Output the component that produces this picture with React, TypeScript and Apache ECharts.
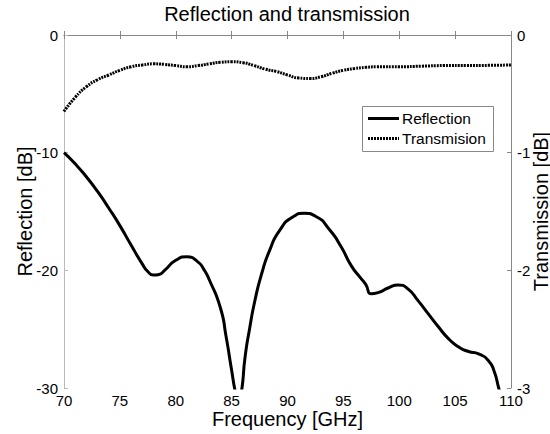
import React, { useEffect, useRef } from "react";
import * as echarts from "echarts";

const titleText = "Reflection and transmission";
const xName = "Frequency [GHz]";
const leftName = "Reflection [dB]";
const rightName = "Transmission [dB]";
const seriesNames = ["Reflection", "Transmision"];

const reflFreq = [70, 71, 72, 73, 74, 75, 76, 77, 77.5, 78, 78.5, 79, 80, 81, 82, 82.5, 83, 84, 84.5, 85, 85.3, 85.6, 85.9, 86.2, 86.6, 87.1, 87.7, 88.4, 89.3, 90.5, 91.5, 92.5, 93.8, 94.8, 95.7, 96.5, 97, 97.5, 98.1, 99, 99.9, 100.8, 101.7, 102.6, 103.5, 104.4, 105.3, 106.2, 107.1, 108, 108.5, 108.9, 109.5, 110];
const reflDb = [-10, -10.95, -12.05, -13.3, -14.7, -16.2, -17.85, -19.45, -20.1, -20.4, -20.35, -20.0, -19.15, -18.85, -19.3, -19.9, -20.8, -23.2, -25.6, -28.5, -30.2, -31.5, -30.2, -27.4, -25.0, -22.5, -20.25, -18.3, -16.6, -15.45, -15.15, -15.4, -16.6, -18.0, -19.6, -20.6, -21.2, -22.0, -21.9, -21.5, -21.25, -21.6, -22.6, -23.7, -24.8, -25.8, -26.5, -26.9, -27.1, -27.7, -28.6, -30, -32, -34];

const transFreq = [70, 71, 72, 73, 74, 75, 76, 77, 78, 79, 80, 81, 82, 83, 84, 85, 86, 87, 88, 89, 90, 91, 92, 93, 94, 95, 96, 97, 98, 100, 102, 104, 106, 108, 110];
const transDb = [-0.65, -0.53, -0.44, -0.38, -0.34, -0.3, -0.27, -0.255, -0.245, -0.25, -0.26, -0.27, -0.26, -0.245, -0.232, -0.227, -0.235, -0.26, -0.29, -0.31, -0.34, -0.365, -0.37, -0.355, -0.325, -0.3, -0.285, -0.275, -0.27, -0.27, -0.265, -0.26, -0.26, -0.258, -0.255];

const xTicks = { min: 70, max: 110, interval: 5 };
const leftTicks = { min: -30, max: 0, interval: 10 };
const rightTicks = { min: -3, max: 0, interval: 1 };

const FONT = "'Liberation Sans', Arial, sans-serif";
const DOTS = [2, 1];

export default function App() {
  const ref = useRef<HTMLDivElement>(null);
  useEffect(() => {
    if (!ref.current) return;
    const chart = echarts.init(ref.current, undefined, { renderer: "svg" });
    const refl = reflFreq.map((f, i) => [f, reflDb[i]]);
    const trans = transFreq.map((f, i) => [f, transDb[i]]);
    const tickStyle = { show: true, inside: true, length: 4, lineStyle: { color: "#888" } };
    const lg = { x: 362, y: 106, w: 131, h: 45 };
    chart.setOption({
      animation: false,
      backgroundColor: "#fff",
      textStyle: { fontFamily: FONT },
      title: {
        text: titleText,
        left: 287,
        top: 4,
        textAlign: "center",
        padding: 0,
        textStyle: { fontSize: 20, fontWeight: "normal", color: "#000", fontFamily: FONT },
      },
      graphic: [
        {
          type: "group",
          z: 100,
          children: [
            {
              type: "rect",
              shape: { x: lg.x + 0.5, y: lg.y + 0.5, width: lg.w, height: lg.h },
              style: { fill: "#fff", stroke: "#888", lineWidth: 1 },
            },
            {
              type: "line",
              shape: { x1: lg.x + 6, y1: lg.y + 12.5, x2: lg.x + 37, y2: lg.y + 12.5 },
              style: { stroke: "#000", lineWidth: 3 },
            },
            {
              type: "line",
              shape: { x1: lg.x + 6, y1: lg.y + 32.5, x2: lg.x + 37, y2: lg.y + 32.5 },
              style: { stroke: "#000", lineWidth: 3, lineDash: DOTS },
            },
            {
              type: "text",
              x: lg.x + 40,
              y: lg.y + 12.5,
              style: { text: seriesNames[0], fontSize: 15.5, fontFamily: FONT, fill: "#000", verticalAlign: "middle", align: "left" },
            },
            {
              type: "text",
              x: lg.x + 40,
              y: lg.y + 32.5,
              style: { text: seriesNames[1], fontSize: 15.5, fontFamily: FONT, fill: "#000", verticalAlign: "middle", align: "left" },
            },
          ],
        },
      ],
      grid: { left: 64, right: 39, top: 35, bottom: 46, containLabel: false, outerBoundsMode: "none" },
      xAxis: [
        {
          type: "value",
          position: "bottom",
          ...xTicks,
          name: xName,
          nameLocation: "middle",
          nameGap: 21,
          nameMoveOverlap: false,
          nameTextStyle: { fontSize: 20, color: "#000", fontFamily: FONT },
          axisLine: { show: true, lineStyle: { color: "#888" } },
          axisTick: tickStyle,
          axisLabel: { fontSize: 15, color: "#000", margin: 5, fontFamily: FONT },
          splitLine: { show: false },
        },
        {
          type: "value",
          position: "top",
          ...xTicks,
          axisLine: { show: true, lineStyle: { color: "#888" } },
          axisTick: tickStyle,
          axisLabel: { show: false },
          splitLine: { show: false },
        },
      ],
      yAxis: [
        {
          type: "value",
          position: "left",
          ...leftTicks,
          name: leftName,
          nameLocation: "middle",
          nameGap: 29.5,
          nameMoveOverlap: false,
          nameTextStyle: { fontSize: 20, color: "#000", fontFamily: FONT },
          axisLine: { show: true, lineStyle: { color: "#bbb" } },
          axisTick: { ...tickStyle, lineStyle: { color: "#bbb" } },
          axisLabel: { fontSize: 15, color: "#000", margin: 6, fontFamily: FONT },
          splitLine: { show: false },
        },
        {
          type: "value",
          position: "right",
          ...rightTicks,
          name: rightName,
          nameLocation: "middle",
          nameGap: 20,
          nameMoveOverlap: false,
          nameTextStyle: { fontSize: 20, color: "#000", fontFamily: FONT },
          axisLine: { show: true, lineStyle: { color: "#888" } },
          axisTick: tickStyle,
          axisLabel: { fontSize: 15, color: "#000", margin: 6, fontFamily: FONT },
          splitLine: { show: false },
        },
      ],
      series: [
        {
          name: seriesNames[0],
          type: "line",
          xAxisIndex: 0,
          yAxisIndex: 0,
          data: refl,
          smooth: 0.6,
          symbol: "none",
          clip: true,
          lineStyle: { color: "#000", width: 3 },
          itemStyle: { color: "#000" },
        },
        {
          name: seriesNames[1],
          type: "line",
          xAxisIndex: 0,
          yAxisIndex: 1,
          data: trans,
          smooth: 0.6,
          symbol: "none",
          clip: true,
          lineStyle: { color: "#000", width: 3, type: DOTS },
          itemStyle: { color: "#000" },
        },
      ],
    });
    return () => chart.dispose();
  }, []);
  return (
    <div
      ref={ref}
      style={{ position: "fixed", left: 0, top: 0, width: 550, height: 434 }}
    />
  );
}
